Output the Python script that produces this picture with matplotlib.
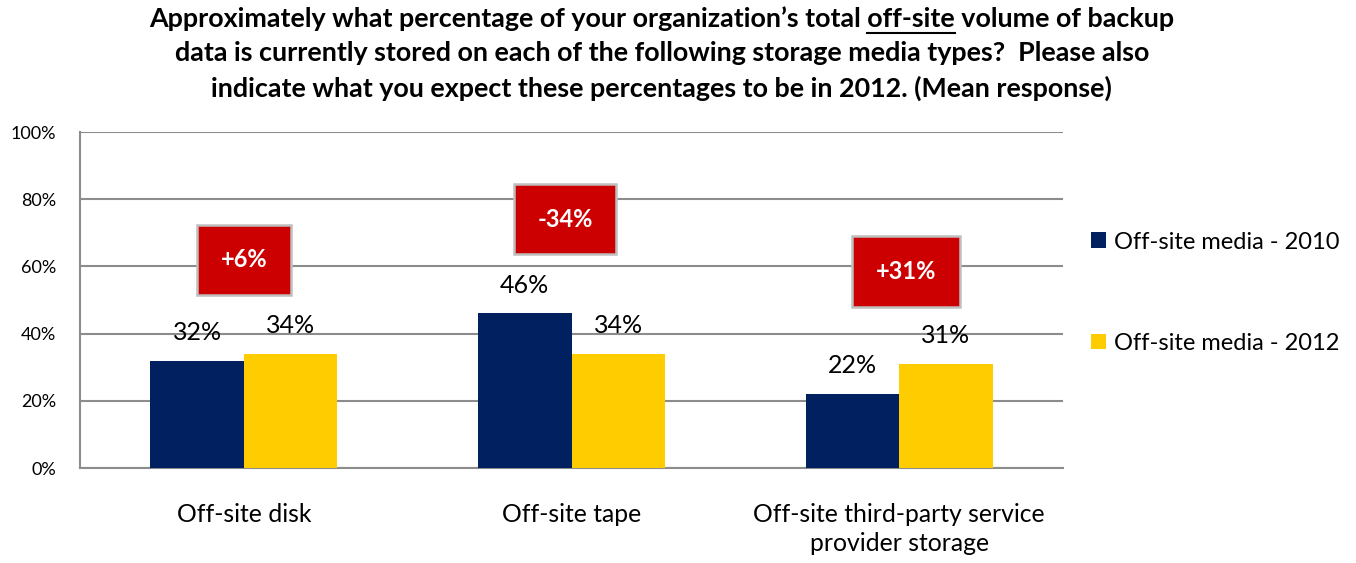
import numpy as np
import matplotlib.pyplot as plt

categories = ["Off-site disk", "Off-site tape", "Off-site third-party service\nprovider storage"]
series_names = ["Off-site media - 2010", "Off-site media - 2012"]
values_2010 = [32, 46, 22]
values_2012 = [34, 34, 31]
change_labels = ["+6%", "-34%", "+31%"]
change_x = [0.0, 0.98, 2.02]
change_y = [62, 74, 58.5]
y_ticks = [0, 20, 40, 60, 80, 100]

navy = "#002060"
gold = "#FFCC00"
red = "#CC0000"
grid_gray = "#8C8C8C"

plt.rcParams['font.family'] = ['Lato', 'DejaVu Sans']

fig = plt.figure(figsize=(13.56, 5.63), dpi=100)
ax = fig.add_axes([0.059, 0.1687, 0.725, 0.5968])

x = np.arange(len(categories))
w = 0.285
b1 = ax.bar(x - w/2, values_2010, w, color=navy, label=series_names[0], zorder=3)
b2 = ax.bar(x + w/2, values_2012, w, color=gold, label=series_names[1], zorder=3)

for bars, vals in [(b1, values_2010), (b2, values_2012)]:
    for rect, v in zip(bars, vals):
        ax.annotate(f"{v}%", (rect.get_x() + rect.get_width()/2, v),
                    xytext=(0, 12), textcoords="offset points",
                    ha="center", va="bottom", fontsize=18, color="black")

for lab, xx, yy in zip(change_labels, change_x, change_y):
    ax.text(xx, yy, lab, ha="center", va="center", fontsize=17, fontweight="bold",
            color="white", zorder=5,
            bbox=dict(boxstyle="square,pad=1.0", fc=red, ec="#BFBFBF", lw=1.8))

ax.set_xlim(-0.5, 2.5)
ax.set_ylim(0, 100)
ax.set_yticks(y_ticks)
ax.set_yticklabels([f"{t}%" for t in y_ticks], fontsize=13)
ax.set_xticks(x)
ax.set_xticklabels(categories, fontsize=17.8, linespacing=1.32)
ax.tick_params(axis="both", length=0)
ax.tick_params(axis="x", pad=25)
ax.tick_params(axis="y", pad=17)
ax.yaxis.grid(True, color=grid_gray, lw=1.5, zorder=0)
ax.set_axisbelow(True)
for s in ["top", "right"]:
    ax.spines[s].set_visible(False)
for s in ["left", "bottom"]:
    ax.spines[s].set_color(grid_gray)
    ax.spines[s].set_linewidth(1.5)

fig.legend(loc="center left", bbox_to_anchor=(0.789, 0.48), frameon=False,
           fontsize=17, handlelength=0.65, handleheight=0.65, handletextpad=0.3,
           labelspacing=3.4)

# title with underlined "off-site"
title_lines = ["Approximately what percentage of your organization\u2019s total off-site volume of backup",
               "data is currently stored on each of the following storage media types?  Please also",
               "indicate what you expect these percentages to be in 2012. (Mean response)"]
title_y = [0.967, 0.905, 0.843]
tsize = 19.4
cx = 0.488
for line, yy in zip(title_lines, title_y):
    fig.text(cx, yy, line, ha="center", va="center", fontsize=tsize, fontweight="bold")

fig.canvas.draw()
r = fig.canvas.get_renderer()
def width_of(s):
    t = fig.text(0, 0, s, fontsize=tsize, fontweight="bold")
    bb = t.get_window_extent(renderer=r)
    t.remove()
    return bb.width
full = width_of(title_lines[0])
pre = width_of("Approximately what percentage of your organization\u2019s total ")
word = width_of("off-site")
W = fig.bbox.width
x0 = cx - full/2/W + pre/W
x1 = x0 + word/W
uy = title_y[0] - 0.026
fig.add_artist(plt.Line2D([x0, x1], [uy, uy], transform=fig.transFigure, color="black", lw=1.5))

fig.savefig("out.png", dpi=100)
